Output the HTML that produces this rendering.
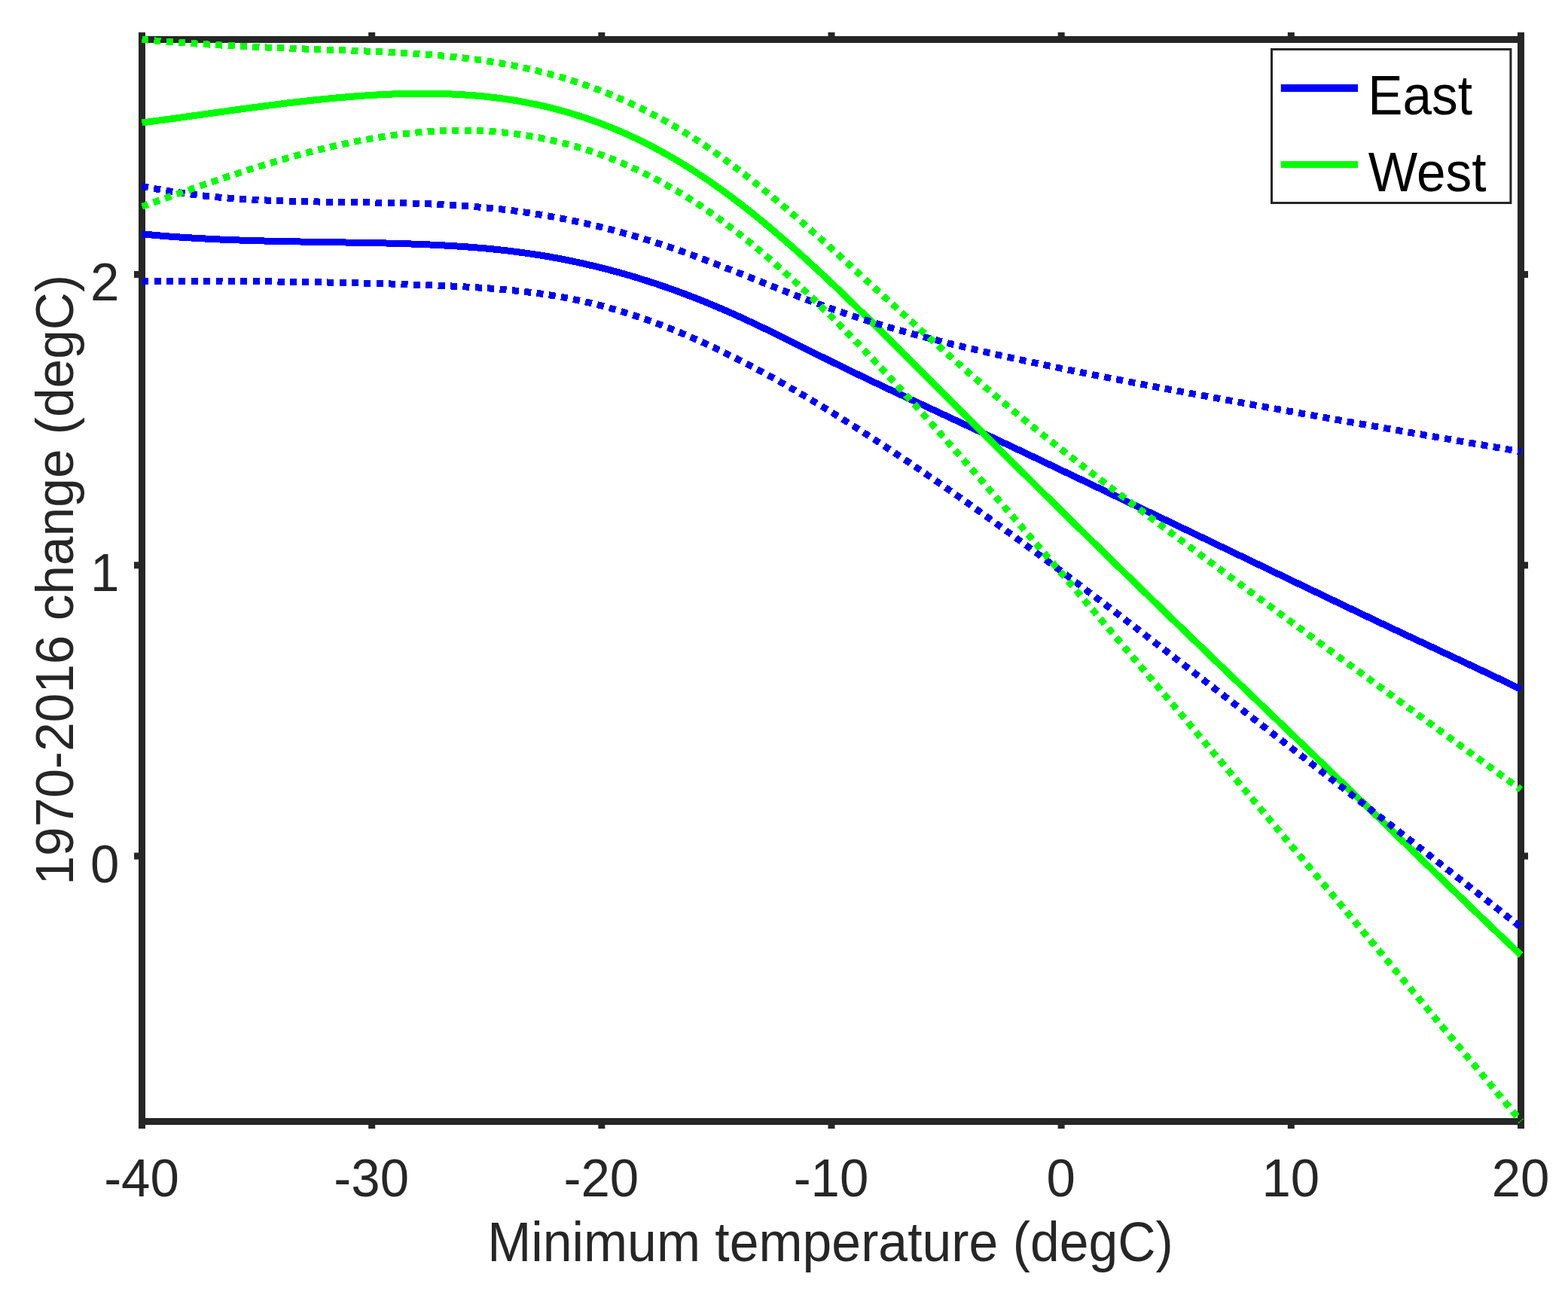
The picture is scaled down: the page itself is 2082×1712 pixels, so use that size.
<!DOCTYPE html>
<html><head><meta charset="utf-8"><title>Plot</title>
<style>html,body{margin:0;padding:0;background:#fff;overflow:hidden;}svg{display:block;}</style>
</head><body>
<svg width="2082" height="1712" viewBox="0 0 2082 1712">
<rect width="2082" height="1712" fill="#ffffff"/>
<g stroke="#262626" stroke-width="9" fill="none" stroke-linecap="butt">
<path d="M188.5 48.0 L188.5 1499.0"/>
<path d="M2019.5 43.0 L2019.5 1499.0"/>
<path d="M184.0 52.5 L2024.0 52.5"/>
<path d="M184.0 1489.5 L2024.0 1489.5"/>
<path d="M493.67 52.5 L493.67 43.0"/>
<path d="M493.67 1489.5 L493.67 1499.0"/>
<path d="M798.83 52.5 L798.83 43.0"/>
<path d="M798.83 1489.5 L798.83 1499.0"/>
<path d="M1104.00 52.5 L1104.00 43.0"/>
<path d="M1104.00 1489.5 L1104.00 1499.0"/>
<path d="M1409.17 52.5 L1409.17 43.0"/>
<path d="M1409.17 1489.5 L1409.17 1499.0"/>
<path d="M1714.33 52.5 L1714.33 43.0"/>
<path d="M1714.33 1489.5 L1714.33 1499.0"/>
<path d="M188.5 43.0 L188.5 52.5"/>
<path d="M188.5 1137.00 L178.0 1137.00"/>
<path d="M2019.5 1137.00 L2029.0 1137.00"/>
<path d="M188.5 750.75 L178.0 750.75"/>
<path d="M2019.5 750.75 L2029.0 750.75"/>
<path d="M188.5 364.50 L178.0 364.50"/>
<path d="M2019.5 364.50 L2029.0 364.50"/>
</g>
<text transform="translate(188.00 1589.00) scale(1 1.0320)" font-family="'Liberation Sans', Arial, Helvetica, sans-serif" font-size="69" fill="#262626" text-anchor="middle">-40</text>
<text transform="translate(493.17 1589.00) scale(1 1.0320)" font-family="'Liberation Sans', Arial, Helvetica, sans-serif" font-size="69" fill="#262626" text-anchor="middle">-30</text>
<text transform="translate(798.33 1589.00) scale(1 1.0320)" font-family="'Liberation Sans', Arial, Helvetica, sans-serif" font-size="69" fill="#262626" text-anchor="middle">-20</text>
<text transform="translate(1103.50 1589.00) scale(1 1.0320)" font-family="'Liberation Sans', Arial, Helvetica, sans-serif" font-size="69" fill="#262626" text-anchor="middle">-10</text>
<text transform="translate(1408.67 1589.00) scale(1 1.0320)" font-family="'Liberation Sans', Arial, Helvetica, sans-serif" font-size="69" fill="#262626" text-anchor="middle">0</text>
<text transform="translate(1713.83 1589.00) scale(1 1.0320)" font-family="'Liberation Sans', Arial, Helvetica, sans-serif" font-size="69" fill="#262626" text-anchor="middle">10</text>
<text transform="translate(2019.00 1589.00) scale(1 1.0320)" font-family="'Liberation Sans', Arial, Helvetica, sans-serif" font-size="69" fill="#262626" text-anchor="middle">20</text>
<text transform="translate(158.50 1171.50) scale(1 1.0320)" font-family="'Liberation Sans', Arial, Helvetica, sans-serif" font-size="69" fill="#262626" text-anchor="end">0</text>
<text transform="translate(158.50 785.25) scale(1 1.0320)" font-family="'Liberation Sans', Arial, Helvetica, sans-serif" font-size="69" fill="#262626" text-anchor="end">1</text>
<text transform="translate(158.50 399.00) scale(1 1.0320)" font-family="'Liberation Sans', Arial, Helvetica, sans-serif" font-size="69" fill="#262626" text-anchor="end">2</text>
<text transform="translate(647.20 1674.80) scale(1 1.0590)" font-family="'Liberation Sans', Arial, Helvetica, sans-serif" font-size="69.74" fill="#262626">Minimum temperature (degC)</text>
<text transform="translate(97.00 1175.60) rotate(-90) scale(1 1.0255)" font-family="'Liberation Sans', Arial, Helvetica, sans-serif" font-size="69.45" fill="#262626">1970-2016 change (degC)</text>
<path d="M188.5 310.8 L191.5 311.1 L194.5 311.4 L197.5 311.6 L200.5 311.9 L203.5 312.2 L206.5 312.5 L209.5 312.7 L212.5 313.0 L215.5 313.2 L218.5 313.5 L221.5 313.7 L224.5 314.0 L227.5 314.2 L230.5 314.4 L233.5 314.6 L236.5 314.8 L239.5 315.1 L242.5 315.3 L245.5 315.5 L248.5 315.7 L251.5 315.8 L254.5 316.0 L257.5 316.2 L260.5 316.4 L263.5 316.6 L266.5 316.7 L269.5 316.9 L272.5 317.0 L275.5 317.2 L278.5 317.4 L281.5 317.5 L284.5 317.6 L287.5 317.8 L290.5 317.9 L293.5 318.1 L296.5 318.2 L299.5 318.3 L302.5 318.4 L305.5 318.5 L308.5 318.7 L311.5 318.8 L314.5 318.9 L317.5 319.0 L320.5 319.1 L323.5 319.2 L326.5 319.3 L329.5 319.4 L332.5 319.5 L335.5 319.6 L338.5 319.7 L341.5 319.7 L344.5 319.8 L347.5 319.9 L350.5 320.0 L353.5 320.1 L356.5 320.1 L359.5 320.2 L362.5 320.3 L365.5 320.3 L368.5 320.4 L371.5 320.5 L374.5 320.5 L377.5 320.6 L380.5 320.7 L383.5 320.7 L386.5 320.8 L389.5 320.8 L392.5 320.9 L395.5 320.9 L398.5 321.0 L401.5 321.0 L404.5 321.1 L407.5 321.1 L410.5 321.2 L413.5 321.2 L416.5 321.3 L419.5 321.3 L422.5 321.4 L425.5 321.4 L428.5 321.5 L431.5 321.5 L434.5 321.6 L437.5 321.6 L440.5 321.7 L443.5 321.7 L446.5 321.8 L449.5 321.8 L452.5 321.9 L455.5 321.9 L458.5 322.0 L461.5 322.0 L464.5 322.1 L467.5 322.1 L470.5 322.2 L473.5 322.2 L476.5 322.3 L479.5 322.3 L482.5 322.4 L485.5 322.4 L488.5 322.5 L491.5 322.6 L494.5 322.6 L497.5 322.7 L500.5 322.7 L503.5 322.8 L506.5 322.9 L509.5 322.9 L512.5 323.0 L515.5 323.1 L518.5 323.2 L521.5 323.2 L524.5 323.3 L527.5 323.4 L530.5 323.5 L533.5 323.6 L536.5 323.7 L539.5 323.8 L542.5 323.9 L545.5 324.0 L548.5 324.1 L551.5 324.2 L554.5 324.3 L557.5 324.4 L560.5 324.5 L563.5 324.7 L566.5 324.8 L569.5 324.9 L572.5 325.1 L575.5 325.2 L578.5 325.3 L581.5 325.5 L584.5 325.7 L587.5 325.8 L590.5 326.0 L593.5 326.2 L596.5 326.3 L599.5 326.5 L602.5 326.7 L605.5 326.9 L608.5 327.1 L611.5 327.3 L614.5 327.5 L617.5 327.7 L620.5 327.9 L623.5 328.2 L626.5 328.4 L629.5 328.6 L632.5 328.9 L635.5 329.1 L638.5 329.4 L641.5 329.7 L644.5 329.9 L647.5 330.2 L650.5 330.5 L653.5 330.8 L656.5 331.1 L659.5 331.4 L662.5 331.7 L665.5 332.1 L668.5 332.4 L671.5 332.7 L674.5 333.1 L677.5 333.5 L680.5 333.8 L683.5 334.2 L686.5 334.6 L689.5 335.0 L692.5 335.4 L695.5 335.8 L698.5 336.2 L701.5 336.6 L704.5 337.1 L707.5 337.5 L710.5 338.0 L713.5 338.4 L716.5 338.9 L719.5 339.4 L722.5 339.9 L725.5 340.4 L728.5 340.9 L731.5 341.4 L734.5 342.0 L737.5 342.5 L740.5 343.1 L743.5 343.6 L746.5 344.2 L749.5 344.8 L752.5 345.4 L755.5 346.0 L758.5 346.6 L761.5 347.2 L764.5 347.9 L767.5 348.5 L770.5 349.2 L773.5 349.8 L776.5 350.5 L779.5 351.2 L782.5 351.9 L785.5 352.6 L788.5 353.3 L791.5 354.0 L794.5 354.8 L797.5 355.5 L800.5 356.3 L803.5 357.0 L806.5 357.8 L809.5 358.6 L812.5 359.4 L815.5 360.2 L818.5 361.0 L821.5 361.8 L824.5 362.7 L827.5 363.5 L830.5 364.4 L833.5 365.3 L836.5 366.1 L839.5 367.0 L842.5 367.9 L845.5 368.8 L848.5 369.7 L851.5 370.7 L854.5 371.6 L857.5 372.6 L860.5 373.5 L863.5 374.5 L866.5 375.5 L869.5 376.4 L872.5 377.4 L875.5 378.5 L878.5 379.5 L881.5 380.5 L884.5 381.5 L887.5 382.6 L890.5 383.6 L893.5 384.7 L896.5 385.8 L899.5 386.9 L902.5 388.0 L905.5 389.1 L908.5 390.2 L911.5 391.3 L914.5 392.5 L917.5 393.6 L920.5 394.8 L923.5 395.9 L926.5 397.1 L929.5 398.3 L932.5 399.5 L935.5 400.7 L938.5 401.9 L941.5 403.2 L944.5 404.4 L947.5 405.7 L950.5 406.9 L953.5 408.2 L956.5 409.5 L959.5 410.8 L962.5 412.1 L965.5 413.4 L968.5 414.7 L971.5 416.0 L974.5 417.4 L977.5 418.7 L980.5 420.1 L983.5 421.4 L986.5 422.8 L989.5 424.2 L992.5 425.6 L995.5 427.0 L998.5 428.4 L1001.5 429.8 L1004.5 431.2 L1007.5 432.6 L1010.5 434.1 L1013.5 435.5 L1016.5 437.0 L1019.5 438.4 L1022.5 439.9 L1025.5 441.3 L1028.5 442.8 L1031.5 444.3 L1034.5 445.7 L1037.5 447.2 L1040.5 448.7 L1043.5 450.2 L1046.5 451.6 L1049.5 453.1 L1052.5 454.6 L1055.5 456.1 L1058.5 457.6 L1061.5 459.1 L1064.5 460.6 L1067.5 462.1 L1070.5 463.6 L1073.5 465.1 L1076.5 466.6 L1079.5 468.1 L1082.5 469.6 L1085.5 471.1 L1088.5 472.6 L1091.5 474.0 L1094.5 475.5 L1097.5 477.0 L1100.5 478.5 L1103.5 480.0 L1106.5 481.5 L1109.5 483.0 L1112.5 484.4 L1115.5 485.9 L1118.5 487.4 L1121.5 488.8 L1124.5 490.3 L1127.5 491.8 L1130.5 493.2 L1133.5 494.7 L1136.5 496.1 L1139.5 497.5 L1142.5 499.0 L1145.5 500.4 L1148.5 501.9 L1151.5 503.3 L1154.5 504.7 L1157.5 506.1 L1160.5 507.6 L1163.5 509.0 L1166.5 510.4 L1169.5 511.8 L1172.5 513.2 L1175.5 514.6 L1178.5 516.1 L1181.5 517.5 L1184.5 518.9 L1187.5 520.3 L1190.5 521.7 L1193.5 523.1 L1196.5 524.5 L1199.5 525.9 L1202.5 527.3 L1205.5 528.7 L1208.5 530.1 L1211.5 531.5 L1214.5 532.9 L1217.5 534.3 L1220.5 535.7 L1223.5 537.0 L1226.5 538.4 L1229.5 539.8 L1232.5 541.2 L1235.5 542.6 L1238.5 544.0 L1241.5 545.4 L1244.5 546.8 L1247.5 548.2 L1250.5 549.6 L1253.5 551.0 L1256.5 552.4 L1259.5 553.8 L1262.5 555.2 L1265.5 556.6 L1268.5 558.0 L1271.5 559.4 L1274.5 560.8 L1277.5 562.2 L1280.5 563.6 L1283.5 565.0 L1286.5 566.4 L1289.5 567.8 L1292.5 569.2 L1295.5 570.6 L1298.5 572.0 L1301.5 573.4 L1304.5 574.8 L1307.5 576.2 L1310.5 577.7 L1313.5 579.1 L1316.5 580.5 L1319.5 581.9 L1322.5 583.3 L1325.5 584.7 L1328.5 586.1 L1331.5 587.6 L1334.5 589.0 L1337.5 590.4 L1340.5 591.8 L1343.5 593.2 L1346.5 594.7 L1349.5 596.1 L1352.5 597.5 L1355.5 598.9 L1358.5 600.3 L1361.5 601.8 L1364.5 603.2 L1367.5 604.6 L1370.5 606.0 L1373.5 607.5 L1376.5 608.9 L1379.5 610.3 L1382.5 611.7 L1385.5 613.2 L1388.5 614.6 L1391.5 616.0 L1394.5 617.5 L1397.5 618.9 L1400.5 620.3 L1403.5 621.7 L1406.5 623.2 L1409.5 624.6 L1412.5 626.0 L1415.5 627.5 L1418.5 628.9 L1421.5 630.3 L1424.5 631.8 L1427.5 633.2 L1430.5 634.6 L1433.5 636.0 L1436.5 637.5 L1439.5 638.9 L1442.5 640.3 L1445.5 641.8 L1448.5 643.2 L1451.5 644.6 L1454.5 646.1 L1457.5 647.5 L1460.5 648.9 L1463.5 650.4 L1466.5 651.8 L1469.5 653.2 L1472.5 654.7 L1475.5 656.1 L1478.5 657.5 L1481.5 659.0 L1484.5 660.4 L1487.5 661.8 L1490.5 663.3 L1493.5 664.7 L1496.5 666.1 L1499.5 667.6 L1502.5 669.0 L1505.5 670.5 L1508.5 671.9 L1511.5 673.3 L1514.5 674.8 L1517.5 676.2 L1520.5 677.6 L1523.5 679.1 L1526.5 680.5 L1529.5 681.9 L1532.5 683.4 L1535.5 684.8 L1538.5 686.2 L1541.5 687.7 L1544.5 689.1 L1547.5 690.5 L1550.5 692.0 L1553.5 693.4 L1556.5 694.9 L1559.5 696.3 L1562.5 697.7 L1565.5 699.2 L1568.5 700.6 L1571.5 702.0 L1574.5 703.5 L1577.5 704.9 L1580.5 706.4 L1583.5 707.8 L1586.5 709.2 L1589.5 710.7 L1592.5 712.1 L1595.5 713.5 L1598.5 715.0 L1601.5 716.4 L1604.5 717.9 L1607.5 719.3 L1610.5 720.7 L1613.5 722.2 L1616.5 723.6 L1619.5 725.1 L1622.5 726.5 L1625.5 727.9 L1628.5 729.4 L1631.5 730.8 L1634.5 732.3 L1637.5 733.7 L1640.5 735.1 L1643.5 736.6 L1646.5 738.0 L1649.5 739.4 L1652.5 740.9 L1655.5 742.3 L1658.5 743.8 L1661.5 745.2 L1664.5 746.7 L1667.5 748.1 L1670.5 749.5 L1673.5 751.0 L1676.5 752.4 L1679.5 753.9 L1682.5 755.3 L1685.5 756.7 L1688.5 758.2 L1691.5 759.6 L1694.5 761.1 L1697.5 762.5 L1700.5 763.9 L1703.5 765.4 L1706.5 766.8 L1709.5 768.3 L1712.5 769.7 L1715.5 771.1 L1718.5 772.6 L1721.5 774.0 L1724.5 775.5 L1727.5 776.9 L1730.5 778.4 L1733.5 779.8 L1736.5 781.2 L1739.5 782.7 L1742.5 784.1 L1745.5 785.5 L1748.5 787.0 L1751.5 788.4 L1754.5 789.9 L1757.5 791.3 L1760.5 792.7 L1763.5 794.2 L1766.5 795.6 L1769.5 797.0 L1772.5 798.5 L1775.5 799.9 L1778.5 801.4 L1781.5 802.8 L1784.5 804.2 L1787.5 805.7 L1790.5 807.1 L1793.5 808.5 L1796.5 810.0 L1799.5 811.4 L1802.5 812.8 L1805.5 814.2 L1808.5 815.7 L1811.5 817.1 L1814.5 818.5 L1817.5 820.0 L1820.5 821.4 L1823.5 822.8 L1826.5 824.2 L1829.5 825.6 L1832.5 827.1 L1835.5 828.5 L1838.5 829.9 L1841.5 831.3 L1844.5 832.8 L1847.5 834.2 L1850.5 835.6 L1853.5 837.0 L1856.5 838.4 L1859.5 839.8 L1862.5 841.2 L1865.5 842.7 L1868.5 844.1 L1871.5 845.5 L1874.5 846.9 L1877.5 848.3 L1880.5 849.7 L1883.5 851.1 L1886.5 852.5 L1889.5 853.9 L1892.5 855.3 L1895.5 856.7 L1898.5 858.1 L1901.5 859.5 L1904.5 860.9 L1907.5 862.3 L1910.5 863.7 L1913.5 865.2 L1916.5 866.6 L1919.5 868.0 L1922.5 869.4 L1925.5 870.8 L1928.5 872.2 L1931.5 873.6 L1934.5 875.0 L1937.5 876.4 L1940.5 877.8 L1943.5 879.2 L1946.5 880.6 L1949.5 882.0 L1952.5 883.5 L1955.5 884.9 L1958.5 886.3 L1961.5 887.7 L1964.5 889.1 L1967.5 890.5 L1970.5 892.0 L1973.5 893.4 L1976.5 894.8 L1979.5 896.2 L1982.5 897.7 L1985.5 899.1 L1988.5 900.5 L1991.5 902.0 L1994.5 903.4 L1997.5 904.9 L2000.5 906.3 L2003.5 907.7 L2006.5 909.2 L2009.5 910.6 L2012.5 912.1 L2015.5 913.6 L2018.5 915.0 L2019.5 915.5" fill="none" stroke="#0000ff" stroke-width="9" stroke-linejoin="round" stroke-linecap="butt" shape-rendering="crispEdges"/>
<path d="M188.5 163.0 L191.5 162.6 L194.5 162.2 L197.5 161.8 L200.5 161.4 L203.5 161.0 L206.5 160.6 L209.5 160.2 L212.5 159.8 L215.5 159.4 L218.5 159.0 L221.5 158.6 L224.5 158.2 L227.5 157.8 L230.5 157.4 L233.5 157.0 L236.5 156.5 L239.5 156.1 L242.5 155.7 L245.5 155.3 L248.5 154.9 L251.5 154.5 L254.5 154.0 L257.5 153.6 L260.5 153.2 L263.5 152.8 L266.5 152.4 L269.5 152.0 L272.5 151.5 L275.5 151.1 L278.5 150.7 L281.5 150.3 L284.5 149.9 L287.5 149.4 L290.5 149.0 L293.5 148.6 L296.5 148.2 L299.5 147.8 L302.5 147.4 L305.5 146.9 L308.5 146.5 L311.5 146.1 L314.5 145.7 L317.5 145.3 L320.5 144.9 L323.5 144.5 L326.5 144.1 L329.5 143.7 L332.5 143.3 L335.5 142.9 L338.5 142.5 L341.5 142.1 L344.5 141.7 L347.5 141.3 L350.5 140.9 L353.5 140.5 L356.5 140.1 L359.5 139.7 L362.5 139.3 L365.5 139.0 L368.5 138.6 L371.5 138.2 L374.5 137.8 L377.5 137.5 L380.5 137.1 L383.5 136.7 L386.5 136.4 L389.5 136.0 L392.5 135.7 L395.5 135.3 L398.5 135.0 L401.5 134.6 L404.5 134.3 L407.5 134.0 L410.5 133.6 L413.5 133.3 L416.5 133.0 L419.5 132.7 L422.5 132.4 L425.5 132.1 L428.5 131.8 L431.5 131.5 L434.5 131.2 L437.5 130.9 L440.5 130.6 L443.5 130.3 L446.5 130.0 L449.5 129.8 L452.5 129.5 L455.5 129.2 L458.5 129.0 L461.5 128.7 L464.5 128.5 L467.5 128.2 L470.5 128.0 L473.5 127.8 L476.5 127.6 L479.5 127.4 L482.5 127.1 L485.5 126.9 L488.5 126.7 L491.5 126.6 L494.5 126.4 L497.5 126.2 L500.5 126.0 L503.5 125.9 L506.5 125.7 L509.5 125.5 L512.5 125.4 L515.5 125.3 L518.5 125.1 L521.5 125.0 L524.5 124.9 L527.5 124.8 L530.5 124.7 L533.5 124.6 L536.5 124.5 L539.5 124.5 L542.5 124.4 L545.5 124.3 L548.5 124.3 L551.5 124.3 L554.5 124.2 L557.5 124.2 L560.5 124.2 L563.5 124.2 L566.5 124.2 L569.5 124.2 L572.5 124.3 L575.5 124.3 L578.5 124.3 L581.5 124.4 L584.5 124.5 L587.5 124.5 L590.5 124.6 L593.5 124.7 L596.5 124.9 L599.5 125.0 L602.5 125.1 L605.5 125.3 L608.5 125.4 L611.5 125.6 L614.5 125.8 L617.5 126.0 L620.5 126.2 L623.5 126.4 L626.5 126.6 L629.5 126.8 L632.5 127.1 L635.5 127.4 L638.5 127.6 L641.5 127.9 L644.5 128.2 L647.5 128.6 L650.5 128.9 L653.5 129.2 L656.5 129.6 L659.5 130.0 L662.5 130.3 L665.5 130.7 L668.5 131.2 L671.5 131.6 L674.5 132.0 L677.5 132.5 L680.5 132.9 L683.5 133.4 L686.5 133.9 L689.5 134.4 L692.5 135.0 L695.5 135.5 L698.5 136.1 L701.5 136.7 L704.5 137.3 L707.5 137.9 L710.5 138.5 L713.5 139.1 L716.5 139.8 L719.5 140.5 L722.5 141.1 L725.5 141.8 L728.5 142.6 L731.5 143.3 L734.5 144.1 L737.5 144.8 L740.5 145.6 L743.5 146.4 L746.5 147.3 L749.5 148.1 L752.5 148.9 L755.5 149.8 L758.5 150.7 L761.5 151.6 L764.5 152.6 L767.5 153.5 L770.5 154.5 L773.5 155.4 L776.5 156.4 L779.5 157.5 L782.5 158.5 L785.5 159.5 L788.5 160.6 L791.5 161.7 L794.5 162.8 L797.5 163.9 L800.5 165.1 L803.5 166.2 L806.5 167.4 L809.5 168.6 L812.5 169.8 L815.5 171.1 L818.5 172.3 L821.5 173.6 L824.5 174.9 L827.5 176.2 L830.5 177.5 L833.5 178.9 L836.5 180.2 L839.5 181.6 L842.5 183.0 L845.5 184.4 L848.5 185.9 L851.5 187.3 L854.5 188.8 L857.5 190.3 L860.5 191.8 L863.5 193.4 L866.5 194.9 L869.5 196.5 L872.5 198.1 L875.5 199.7 L878.5 201.4 L881.5 203.0 L884.5 204.7 L887.5 206.4 L890.5 208.1 L893.5 209.9 L896.5 211.6 L899.5 213.4 L902.5 215.2 L905.5 217.0 L908.5 218.9 L911.5 220.7 L914.5 222.6 L917.5 224.5 L920.5 226.4 L923.5 228.4 L926.5 230.3 L929.5 232.3 L932.5 234.3 L935.5 236.3 L938.5 238.3 L941.5 240.4 L944.5 242.5 L947.5 244.5 L950.5 246.7 L953.5 248.8 L956.5 250.9 L959.5 253.1 L962.5 255.3 L965.5 257.5 L968.5 259.7 L971.5 261.9 L974.5 264.2 L977.5 266.5 L980.5 268.7 L983.5 271.1 L986.5 273.4 L989.5 275.7 L992.5 278.1 L995.5 280.4 L998.5 282.8 L1001.5 285.2 L1004.5 287.7 L1007.5 290.1 L1010.5 292.6 L1013.5 295.0 L1016.5 297.5 L1019.5 300.0 L1022.5 302.5 L1025.5 305.1 L1028.5 307.6 L1031.5 310.2 L1034.5 312.7 L1037.5 315.3 L1040.5 317.9 L1043.5 320.5 L1046.5 323.2 L1049.5 325.8 L1052.5 328.4 L1055.5 331.1 L1058.5 333.8 L1061.5 336.5 L1064.5 339.2 L1067.5 341.9 L1070.5 344.6 L1073.5 347.4 L1076.5 350.1 L1079.5 352.9 L1082.5 355.6 L1085.5 358.4 L1088.5 361.2 L1091.5 364.0 L1094.5 366.8 L1097.5 369.6 L1100.5 372.5 L1103.5 375.3 L1106.5 378.1 L1109.5 381.0 L1112.5 383.8 L1115.5 386.7 L1118.5 389.6 L1121.5 392.5 L1124.5 395.4 L1127.5 398.3 L1130.5 401.2 L1133.5 404.1 L1136.5 407.0 L1139.5 409.9 L1142.5 412.9 L1145.5 415.8 L1148.5 418.7 L1151.5 421.7 L1154.5 424.6 L1157.5 427.6 L1160.5 430.5 L1163.5 433.5 L1166.5 436.5 L1169.5 439.4 L1172.5 442.4 L1175.5 445.4 L1178.5 448.4 L1181.5 451.3 L1184.5 454.3 L1187.5 457.3 L1190.5 460.3 L1193.5 463.3 L1196.5 466.3 L1199.5 469.3 L1202.5 472.3 L1205.5 475.3 L1208.5 478.3 L1211.5 481.3 L1214.5 484.3 L1217.5 487.3 L1220.5 490.3 L1223.5 493.4 L1226.5 496.4 L1229.5 499.4 L1232.5 502.4 L1235.5 505.4 L1238.5 508.4 L1241.5 511.4 L1244.5 514.4 L1247.5 517.4 L1250.5 520.5 L1253.5 523.5 L1256.5 526.5 L1259.5 529.5 L1262.5 532.5 L1265.5 535.5 L1268.5 538.5 L1271.5 541.5 L1274.5 544.5 L1277.5 547.5 L1280.5 550.5 L1283.5 553.5 L1286.5 556.5 L1289.5 559.5 L1292.5 562.5 L1295.5 565.5 L1298.5 568.5 L1301.5 571.5 L1304.5 574.5 L1307.5 577.5 L1310.5 580.5 L1313.5 583.4 L1316.5 586.4 L1319.5 589.4 L1322.5 592.4 L1325.5 595.4 L1328.5 598.4 L1331.5 601.4 L1334.5 604.3 L1337.5 607.3 L1340.5 610.3 L1343.5 613.3 L1346.5 616.3 L1349.5 619.2 L1352.5 622.2 L1355.5 625.2 L1358.5 628.2 L1361.5 631.1 L1364.5 634.1 L1367.5 637.1 L1370.5 640.0 L1373.5 643.0 L1376.5 646.0 L1379.5 649.0 L1382.5 651.9 L1385.5 654.9 L1388.5 657.9 L1391.5 660.8 L1394.5 663.8 L1397.5 666.7 L1400.5 669.7 L1403.5 672.7 L1406.5 675.6 L1409.5 678.6 L1412.5 681.5 L1415.5 684.5 L1418.5 687.4 L1421.5 690.4 L1424.5 693.3 L1427.5 696.3 L1430.5 699.2 L1433.5 702.2 L1436.5 705.1 L1439.5 708.1 L1442.5 711.0 L1445.5 714.0 L1448.5 716.9 L1451.5 719.9 L1454.5 722.8 L1457.5 725.7 L1460.5 728.7 L1463.5 731.6 L1466.5 734.6 L1469.5 737.5 L1472.5 740.4 L1475.5 743.4 L1478.5 746.3 L1481.5 749.2 L1484.5 752.2 L1487.5 755.1 L1490.5 758.0 L1493.5 760.9 L1496.5 763.9 L1499.5 766.8 L1502.5 769.7 L1505.5 772.6 L1508.5 775.6 L1511.5 778.5 L1514.5 781.4 L1517.5 784.3 L1520.5 787.2 L1523.5 790.1 L1526.5 793.1 L1529.5 796.0 L1532.5 798.9 L1535.5 801.8 L1538.5 804.7 L1541.5 807.6 L1544.5 810.5 L1547.5 813.4 L1550.5 816.3 L1553.5 819.3 L1556.5 822.2 L1559.5 825.1 L1562.5 828.0 L1565.5 830.9 L1568.5 833.8 L1571.5 836.7 L1574.5 839.6 L1577.5 842.5 L1580.5 845.4 L1583.5 848.3 L1586.5 851.1 L1589.5 854.0 L1592.5 856.9 L1595.5 859.8 L1598.5 862.7 L1601.5 865.6 L1604.5 868.5 L1607.5 871.4 L1610.5 874.3 L1613.5 877.2 L1616.5 880.1 L1619.5 883.0 L1622.5 885.8 L1625.5 888.7 L1628.5 891.6 L1631.5 894.5 L1634.5 897.4 L1637.5 900.3 L1640.5 903.2 L1643.5 906.0 L1646.5 908.9 L1649.5 911.8 L1652.5 914.7 L1655.5 917.6 L1658.5 920.5 L1661.5 923.4 L1664.5 926.2 L1667.5 929.1 L1670.5 932.0 L1673.5 934.9 L1676.5 937.8 L1679.5 940.6 L1682.5 943.5 L1685.5 946.4 L1688.5 949.3 L1691.5 952.2 L1694.5 955.1 L1697.5 957.9 L1700.5 960.8 L1703.5 963.7 L1706.5 966.6 L1709.5 969.5 L1712.5 972.4 L1715.5 975.2 L1718.5 978.1 L1721.5 981.0 L1724.5 983.9 L1727.5 986.8 L1730.5 989.7 L1733.5 992.5 L1736.5 995.4 L1739.5 998.3 L1742.5 1001.2 L1745.5 1004.1 L1748.5 1007.0 L1751.5 1009.9 L1754.5 1012.7 L1757.5 1015.6 L1760.5 1018.5 L1763.5 1021.4 L1766.5 1024.3 L1769.5 1027.2 L1772.5 1030.1 L1775.5 1033.0 L1778.5 1035.9 L1781.5 1038.8 L1784.5 1041.7 L1787.5 1044.5 L1790.5 1047.4 L1793.5 1050.3 L1796.5 1053.2 L1799.5 1056.1 L1802.5 1059.0 L1805.5 1061.9 L1808.5 1064.8 L1811.5 1067.7 L1814.5 1070.6 L1817.5 1073.5 L1820.5 1076.4 L1823.5 1079.3 L1826.5 1082.2 L1829.5 1085.1 L1832.5 1088.1 L1835.5 1091.0 L1838.5 1093.9 L1841.5 1096.8 L1844.5 1099.7 L1847.5 1102.6 L1850.5 1105.5 L1853.5 1108.4 L1856.5 1111.3 L1859.5 1114.2 L1862.5 1117.2 L1865.5 1120.1 L1868.5 1123.0 L1871.5 1125.9 L1874.5 1128.8 L1877.5 1131.7 L1880.5 1134.6 L1883.5 1137.6 L1886.5 1140.5 L1889.5 1143.4 L1892.5 1146.3 L1895.5 1149.2 L1898.5 1152.1 L1901.5 1155.0 L1904.5 1158.0 L1907.5 1160.9 L1910.5 1163.8 L1913.5 1166.7 L1916.5 1169.6 L1919.5 1172.5 L1922.5 1175.4 L1925.5 1178.3 L1928.5 1181.2 L1931.5 1184.1 L1934.5 1187.0 L1937.5 1189.9 L1940.5 1192.8 L1943.5 1195.7 L1946.5 1198.6 L1949.5 1201.5 L1952.5 1204.4 L1955.5 1207.3 L1958.5 1210.2 L1961.5 1213.1 L1964.5 1216.0 L1967.5 1218.9 L1970.5 1221.7 L1973.5 1224.6 L1976.5 1227.5 L1979.5 1230.4 L1982.5 1233.3 L1985.5 1236.1 L1988.5 1239.0 L1991.5 1241.9 L1994.5 1244.7 L1997.5 1247.6 L2000.5 1250.5 L2003.5 1253.3 L2006.5 1256.2 L2009.5 1259.0 L2012.5 1261.9 L2015.5 1264.7 L2018.5 1267.6 L2019.5 1268.5" fill="none" stroke="#00ff00" stroke-width="9" stroke-linejoin="round" stroke-linecap="butt" shape-rendering="crispEdges"/>
<path d="M188.5 247.3 L191.5 248.0 L194.5 248.6 L197.5 249.2 L200.5 249.7 L203.5 250.3 L206.5 250.8 L209.5 251.4 L212.5 251.9 L215.5 252.4 L218.5 252.9 L221.5 253.4 L224.5 253.9 L227.5 254.4 L230.5 254.8 L233.5 255.3 L236.5 255.7 L239.5 256.2 L242.5 256.6 L245.5 257.0 L248.5 257.4 L251.5 257.8 L254.5 258.2 L257.5 258.5 L260.5 258.9 L263.5 259.2 L266.5 259.6 L269.5 259.9 L272.5 260.2 L275.5 260.5 L278.5 260.8 L281.5 261.1 L284.5 261.4 L287.5 261.7 L290.5 262.0 L293.5 262.2 L296.5 262.5 L299.5 262.7 L302.5 263.0 L305.5 263.2 L308.5 263.4 L311.5 263.7 L314.5 263.9 L317.5 264.1 L320.5 264.3 L323.5 264.5 L326.5 264.6 L329.5 264.8 L332.5 265.0 L335.5 265.2 L338.5 265.3 L341.5 265.5 L344.5 265.6 L347.5 265.8 L350.5 265.9 L353.5 266.0 L356.5 266.2 L359.5 266.3 L362.5 266.4 L365.5 266.5 L368.5 266.6 L371.5 266.7 L374.5 266.8 L377.5 266.9 L380.5 267.0 L383.5 267.1 L386.5 267.2 L389.5 267.3 L392.5 267.3 L395.5 267.4 L398.5 267.5 L401.5 267.6 L404.5 267.6 L407.5 267.7 L410.5 267.7 L413.5 267.8 L416.5 267.9 L419.5 267.9 L422.5 268.0 L425.5 268.0 L428.5 268.1 L431.5 268.1 L434.5 268.2 L437.5 268.2 L440.5 268.2 L443.5 268.3 L446.5 268.3 L449.5 268.4 L452.5 268.4 L455.5 268.5 L458.5 268.5 L461.5 268.5 L464.5 268.6 L467.5 268.6 L470.5 268.6 L473.5 268.7 L476.5 268.7 L479.5 268.8 L482.5 268.8 L485.5 268.9 L488.5 268.9 L491.5 268.9 L494.5 269.0 L497.5 269.0 L500.5 269.1 L503.5 269.1 L506.5 269.2 L509.5 269.2 L512.5 269.3 L515.5 269.3 L518.5 269.4 L521.5 269.5 L524.5 269.5 L527.5 269.6 L530.5 269.7 L533.5 269.7 L536.5 269.8 L539.5 269.9 L542.5 270.0 L545.5 270.1 L548.5 270.2 L551.5 270.3 L554.5 270.4 L557.5 270.5 L560.5 270.6 L563.5 270.7 L566.5 270.8 L569.5 270.9 L572.5 271.0 L575.5 271.2 L578.5 271.3 L581.5 271.4 L584.5 271.6 L587.5 271.7 L590.5 271.9 L593.5 272.1 L596.5 272.2 L599.5 272.4 L602.5 272.6 L605.5 272.8 L608.5 272.9 L611.5 273.1 L614.5 273.3 L617.5 273.6 L620.5 273.8 L623.5 274.0 L626.5 274.2 L629.5 274.5 L632.5 274.7 L635.5 275.0 L638.5 275.2 L641.5 275.5 L644.5 275.8 L647.5 276.1 L650.5 276.3 L653.5 276.6 L656.5 277.0 L659.5 277.3 L662.5 277.6 L665.5 277.9 L668.5 278.3 L671.5 278.6 L674.5 279.0 L677.5 279.4 L680.5 279.7 L683.5 280.1 L686.5 280.5 L689.5 280.9 L692.5 281.3 L695.5 281.8 L698.5 282.2 L701.5 282.6 L704.5 283.1 L707.5 283.6 L710.5 284.0 L713.5 284.5 L716.5 285.0 L719.5 285.5 L722.5 286.0 L725.5 286.5 L728.5 287.0 L731.5 287.6 L734.5 288.1 L737.5 288.7 L740.5 289.2 L743.5 289.8 L746.5 290.4 L749.5 290.9 L752.5 291.5 L755.5 292.1 L758.5 292.8 L761.5 293.4 L764.5 294.0 L767.5 294.6 L770.5 295.3 L773.5 296.0 L776.5 296.6 L779.5 297.3 L782.5 298.0 L785.5 298.7 L788.5 299.4 L791.5 300.1 L794.5 300.8 L797.5 301.6 L800.5 302.3 L803.5 303.0 L806.5 303.8 L809.5 304.6 L812.5 305.3 L815.5 306.1 L818.5 306.9 L821.5 307.7 L824.5 308.5 L827.5 309.4 L830.5 310.2 L833.5 311.0 L836.5 311.9 L839.5 312.7 L842.5 313.6 L845.5 314.5 L848.5 315.4 L851.5 316.3 L854.5 317.2 L857.5 318.1 L860.5 319.0 L863.5 319.9 L866.5 320.9 L869.5 321.8 L872.5 322.8 L875.5 323.8 L878.5 324.7 L881.5 325.7 L884.5 326.7 L887.5 327.7 L890.5 328.7 L893.5 329.8 L896.5 330.8 L899.5 331.8 L902.5 332.9 L905.5 333.9 L908.5 335.0 L911.5 336.1 L914.5 337.2 L917.5 338.3 L920.5 339.4 L923.5 340.5 L926.5 341.6 L929.5 342.7 L932.5 343.8 L935.5 344.9 L938.5 346.1 L941.5 347.2 L944.5 348.3 L947.5 349.5 L950.5 350.6 L953.5 351.8 L956.5 353.0 L959.5 354.1 L962.5 355.3 L965.5 356.5 L968.5 357.6 L971.5 358.8 L974.5 360.0 L977.5 361.2 L980.5 362.4 L983.5 363.5 L986.5 364.7 L989.5 365.9 L992.5 367.1 L995.5 368.3 L998.5 369.5 L1001.5 370.7 L1004.5 371.9 L1007.5 373.1 L1010.5 374.3 L1013.5 375.5 L1016.5 376.7 L1019.5 377.9 L1022.5 379.0 L1025.5 380.2 L1028.5 381.4 L1031.5 382.6 L1034.5 383.8 L1037.5 385.0 L1040.5 386.1 L1043.5 387.3 L1046.5 388.5 L1049.5 389.7 L1052.5 390.8 L1055.5 392.0 L1058.5 393.1 L1061.5 394.3 L1064.5 395.4 L1067.5 396.6 L1070.5 397.7 L1073.5 398.9 L1076.5 400.0 L1079.5 401.1 L1082.5 402.2 L1085.5 403.3 L1088.5 404.4 L1091.5 405.5 L1094.5 406.6 L1097.5 407.7 L1100.5 408.8 L1103.5 409.8 L1106.5 410.9 L1109.5 411.9 L1112.5 413.0 L1115.5 414.0 L1118.5 415.0 L1121.5 416.1 L1124.5 417.1 L1127.5 418.1 L1130.5 419.1 L1133.5 420.1 L1136.5 421.0 L1139.5 422.0 L1142.5 423.0 L1145.5 423.9 L1148.5 424.9 L1151.5 425.8 L1154.5 426.8 L1157.5 427.7 L1160.5 428.6 L1163.5 429.6 L1166.5 430.5 L1169.5 431.4 L1172.5 432.3 L1175.5 433.2 L1178.5 434.1 L1181.5 434.9 L1184.5 435.8 L1187.5 436.7 L1190.5 437.5 L1193.5 438.4 L1196.5 439.2 L1199.5 440.1 L1202.5 440.9 L1205.5 441.8 L1208.5 442.6 L1211.5 443.4 L1214.5 444.2 L1217.5 445.0 L1220.5 445.8 L1223.5 446.7 L1226.5 447.4 L1229.5 448.2 L1232.5 449.0 L1235.5 449.8 L1238.5 450.6 L1241.5 451.4 L1244.5 452.1 L1247.5 452.9 L1250.5 453.6 L1253.5 454.4 L1256.5 455.1 L1259.5 455.9 L1262.5 456.6 L1265.5 457.4 L1268.5 458.1 L1271.5 458.8 L1274.5 459.6 L1277.5 460.3 L1280.5 461.0 L1283.5 461.7 L1286.5 462.4 L1289.5 463.1 L1292.5 463.8 L1295.5 464.5 L1298.5 465.2 L1301.5 465.9 L1304.5 466.6 L1307.5 467.3 L1310.5 468.0 L1313.5 468.7 L1316.5 469.4 L1319.5 470.0 L1322.5 470.7 L1325.5 471.4 L1328.5 472.0 L1331.5 472.7 L1334.5 473.4 L1337.5 474.0 L1340.5 474.7 L1343.5 475.4 L1346.5 476.0 L1349.5 476.7 L1352.5 477.3 L1355.5 478.0 L1358.5 478.6 L1361.5 479.3 L1364.5 479.9 L1367.5 480.5 L1370.5 481.2 L1373.5 481.8 L1376.5 482.4 L1379.5 483.1 L1382.5 483.7 L1385.5 484.3 L1388.5 485.0 L1391.5 485.6 L1394.5 486.2 L1397.5 486.8 L1400.5 487.5 L1403.5 488.1 L1406.5 488.7 L1409.5 489.3 L1412.5 489.9 L1415.5 490.5 L1418.5 491.2 L1421.5 491.8 L1424.5 492.4 L1427.5 493.0 L1430.5 493.6 L1433.5 494.2 L1436.5 494.8 L1439.5 495.4 L1442.5 496.0 L1445.5 496.6 L1448.5 497.2 L1451.5 497.8 L1454.5 498.4 L1457.5 499.0 L1460.5 499.6 L1463.5 500.1 L1466.5 500.7 L1469.5 501.3 L1472.5 501.9 L1475.5 502.5 L1478.5 503.1 L1481.5 503.7 L1484.5 504.2 L1487.5 504.8 L1490.5 505.4 L1493.5 506.0 L1496.5 506.5 L1499.5 507.1 L1502.5 507.7 L1505.5 508.3 L1508.5 508.8 L1511.5 509.4 L1514.5 510.0 L1517.5 510.6 L1520.5 511.1 L1523.5 511.7 L1526.5 512.3 L1529.5 512.8 L1532.5 513.4 L1535.5 514.0 L1538.5 514.5 L1541.5 515.1 L1544.5 515.7 L1547.5 516.2 L1550.5 516.8 L1553.5 517.3 L1556.5 517.9 L1559.5 518.5 L1562.5 519.0 L1565.5 519.6 L1568.5 520.1 L1571.5 520.7 L1574.5 521.2 L1577.5 521.8 L1580.5 522.4 L1583.5 522.9 L1586.5 523.5 L1589.5 524.0 L1592.5 524.6 L1595.5 525.1 L1598.5 525.7 L1601.5 526.2 L1604.5 526.8 L1607.5 527.3 L1610.5 527.9 L1613.5 528.4 L1616.5 529.0 L1619.5 529.5 L1622.5 530.1 L1625.5 530.6 L1628.5 531.2 L1631.5 531.7 L1634.5 532.3 L1637.5 532.8 L1640.5 533.4 L1643.5 533.9 L1646.5 534.5 L1649.5 535.0 L1652.5 535.5 L1655.5 536.1 L1658.5 536.6 L1661.5 537.2 L1664.5 537.7 L1667.5 538.3 L1670.5 538.8 L1673.5 539.3 L1676.5 539.9 L1679.5 540.4 L1682.5 541.0 L1685.5 541.5 L1688.5 542.0 L1691.5 542.6 L1694.5 543.1 L1697.5 543.7 L1700.5 544.2 L1703.5 544.7 L1706.5 545.3 L1709.5 545.8 L1712.5 546.3 L1715.5 546.9 L1718.5 547.4 L1721.5 547.9 L1724.5 548.5 L1727.5 549.0 L1730.5 549.6 L1733.5 550.1 L1736.5 550.6 L1739.5 551.2 L1742.5 551.7 L1745.5 552.2 L1748.5 552.7 L1751.5 553.3 L1754.5 553.8 L1757.5 554.3 L1760.5 554.9 L1763.5 555.4 L1766.5 555.9 L1769.5 556.5 L1772.5 557.0 L1775.5 557.5 L1778.5 558.0 L1781.5 558.6 L1784.5 559.1 L1787.5 559.6 L1790.5 560.2 L1793.5 560.7 L1796.5 561.2 L1799.5 561.7 L1802.5 562.3 L1805.5 562.8 L1808.5 563.3 L1811.5 563.8 L1814.5 564.4 L1817.5 564.9 L1820.5 565.4 L1823.5 565.9 L1826.5 566.5 L1829.5 567.0 L1832.5 567.5 L1835.5 568.0 L1838.5 568.6 L1841.5 569.1 L1844.5 569.6 L1847.5 570.1 L1850.5 570.7 L1853.5 571.2 L1856.5 571.7 L1859.5 572.2 L1862.5 572.7 L1865.5 573.3 L1868.5 573.8 L1871.5 574.3 L1874.5 574.8 L1877.5 575.4 L1880.5 575.9 L1883.5 576.4 L1886.5 576.9 L1889.5 577.4 L1892.5 578.0 L1895.5 578.5 L1898.5 579.0 L1901.5 579.5 L1904.5 580.0 L1907.5 580.6 L1910.5 581.1 L1913.5 581.6 L1916.5 582.1 L1919.5 582.6 L1922.5 583.1 L1925.5 583.7 L1928.5 584.2 L1931.5 584.7 L1934.5 585.2 L1937.5 585.7 L1940.5 586.3 L1943.5 586.8 L1946.5 587.3 L1949.5 587.8 L1952.5 588.3 L1955.5 588.8 L1958.5 589.4 L1961.5 589.9 L1964.5 590.4 L1967.5 590.9 L1970.5 591.4 L1973.5 591.9 L1976.5 592.5 L1979.5 593.0 L1982.5 593.5 L1985.5 594.0 L1988.5 594.5 L1991.5 595.0 L1994.5 595.6 L1997.5 596.1 L2000.5 596.6 L2003.5 597.1 L2006.5 597.6 L2009.5 598.1 L2012.5 598.7 L2015.5 599.2 L2018.5 599.7 L2019.5 599.9" fill="none" stroke="#0000ff" stroke-width="9" stroke-linejoin="round" stroke-linecap="butt" shape-rendering="crispEdges" stroke-dasharray="9 7.404" stroke-dashoffset="0.4"/>
<path d="M188.5 373.8 L191.5 373.8 L194.5 373.7 L197.5 373.7 L200.5 373.7 L203.5 373.7 L206.5 373.7 L209.5 373.7 L212.5 373.6 L215.5 373.6 L218.5 373.6 L221.5 373.6 L224.5 373.6 L227.5 373.6 L230.5 373.6 L233.5 373.6 L236.5 373.6 L239.5 373.5 L242.5 373.5 L245.5 373.5 L248.5 373.5 L251.5 373.5 L254.5 373.5 L257.5 373.5 L260.5 373.5 L263.5 373.5 L266.5 373.5 L269.5 373.5 L272.5 373.5 L275.5 373.5 L278.5 373.5 L281.5 373.5 L284.5 373.5 L287.5 373.5 L290.5 373.5 L293.5 373.5 L296.5 373.6 L299.5 373.6 L302.5 373.6 L305.5 373.6 L308.5 373.6 L311.5 373.6 L314.5 373.6 L317.5 373.6 L320.5 373.6 L323.5 373.7 L326.5 373.7 L329.5 373.7 L332.5 373.7 L335.5 373.7 L338.5 373.8 L341.5 373.8 L344.5 373.8 L347.5 373.8 L350.5 373.9 L353.5 373.9 L356.5 373.9 L359.5 373.9 L362.5 374.0 L365.5 374.0 L368.5 374.0 L371.5 374.1 L374.5 374.1 L377.5 374.1 L380.5 374.2 L383.5 374.2 L386.5 374.2 L389.5 374.3 L392.5 374.3 L395.5 374.3 L398.5 374.4 L401.5 374.4 L404.5 374.5 L407.5 374.5 L410.5 374.6 L413.5 374.6 L416.5 374.7 L419.5 374.7 L422.5 374.8 L425.5 374.8 L428.5 374.9 L431.5 374.9 L434.5 375.0 L437.5 375.0 L440.5 375.1 L443.5 375.1 L446.5 375.2 L449.5 375.3 L452.5 375.3 L455.5 375.4 L458.5 375.5 L461.5 375.5 L464.5 375.6 L467.5 375.7 L470.5 375.7 L473.5 375.8 L476.5 375.9 L479.5 375.9 L482.5 376.0 L485.5 376.1 L488.5 376.2 L491.5 376.2 L494.5 376.3 L497.5 376.4 L500.5 376.5 L503.5 376.6 L506.5 376.7 L509.5 376.7 L512.5 376.8 L515.5 376.9 L518.5 377.0 L521.5 377.1 L524.5 377.2 L527.5 377.3 L530.5 377.4 L533.5 377.5 L536.5 377.6 L539.5 377.7 L542.5 377.8 L545.5 377.9 L548.5 378.0 L551.5 378.1 L554.5 378.2 L557.5 378.3 L560.5 378.4 L563.5 378.5 L566.5 378.7 L569.5 378.8 L572.5 378.9 L575.5 379.0 L578.5 379.1 L581.5 379.2 L584.5 379.4 L587.5 379.5 L590.5 379.6 L593.5 379.7 L596.5 379.9 L599.5 380.0 L602.5 380.2 L605.5 380.3 L608.5 380.5 L611.5 380.6 L614.5 380.8 L617.5 380.9 L620.5 381.1 L623.5 381.3 L626.5 381.4 L629.5 381.6 L632.5 381.8 L635.5 382.0 L638.5 382.2 L641.5 382.4 L644.5 382.6 L647.5 382.8 L650.5 383.0 L653.5 383.3 L656.5 383.5 L659.5 383.7 L662.5 384.0 L665.5 384.2 L668.5 384.5 L671.5 384.8 L674.5 385.1 L677.5 385.4 L680.5 385.6 L683.5 386.0 L686.5 386.3 L689.5 386.6 L692.5 386.9 L695.5 387.3 L698.5 387.6 L701.5 388.0 L704.5 388.3 L707.5 388.7 L710.5 389.1 L713.5 389.5 L716.5 389.9 L719.5 390.4 L722.5 390.8 L725.5 391.2 L728.5 391.7 L731.5 392.2 L734.5 392.6 L737.5 393.1 L740.5 393.6 L743.5 394.2 L746.5 394.7 L749.5 395.2 L752.5 395.8 L755.5 396.4 L758.5 396.9 L761.5 397.5 L764.5 398.2 L767.5 398.8 L770.5 399.4 L773.5 400.1 L776.5 400.7 L779.5 401.4 L782.5 402.1 L785.5 402.8 L788.5 403.6 L791.5 404.3 L794.5 405.1 L797.5 405.8 L800.5 406.6 L803.5 407.4 L806.5 408.2 L809.5 409.1 L812.5 409.9 L815.5 410.8 L818.5 411.6 L821.5 412.5 L824.5 413.4 L827.5 414.3 L830.5 415.3 L833.5 416.2 L836.5 417.2 L839.5 418.1 L842.5 419.1 L845.5 420.1 L848.5 421.1 L851.5 422.2 L854.5 423.2 L857.5 424.2 L860.5 425.3 L863.5 426.4 L866.5 427.5 L869.5 428.6 L872.5 429.7 L875.5 430.8 L878.5 431.9 L881.5 433.1 L884.5 434.3 L887.5 435.4 L890.5 436.6 L893.5 437.8 L896.5 439.0 L899.5 440.3 L902.5 441.5 L905.5 442.8 L908.5 444.0 L911.5 445.3 L914.5 446.6 L917.5 447.9 L920.5 449.2 L923.5 450.5 L926.5 451.8 L929.5 453.2 L932.5 454.5 L935.5 455.9 L938.5 457.2 L941.5 458.6 L944.5 460.0 L947.5 461.4 L950.5 462.8 L953.5 464.3 L956.5 465.7 L959.5 467.1 L962.5 468.6 L965.5 470.1 L968.5 471.6 L971.5 473.0 L974.5 474.5 L977.5 476.0 L980.5 477.6 L983.5 479.1 L986.5 480.6 L989.5 482.2 L992.5 483.7 L995.5 485.3 L998.5 486.9 L1001.5 488.4 L1004.5 490.0 L1007.5 491.6 L1010.5 493.2 L1013.5 494.9 L1016.5 496.5 L1019.5 498.1 L1022.5 499.8 L1025.5 501.4 L1028.5 503.1 L1031.5 504.8 L1034.5 506.4 L1037.5 508.1 L1040.5 509.8 L1043.5 511.5 L1046.5 513.2 L1049.5 515.0 L1052.5 516.7 L1055.5 518.4 L1058.5 520.2 L1061.5 521.9 L1064.5 523.7 L1067.5 525.4 L1070.5 527.2 L1073.5 529.0 L1076.5 530.8 L1079.5 532.6 L1082.5 534.4 L1085.5 536.2 L1088.5 538.0 L1091.5 539.8 L1094.5 541.6 L1097.5 543.5 L1100.5 545.3 L1103.5 547.2 L1106.5 549.0 L1109.5 550.9 L1112.5 552.7 L1115.5 554.6 L1118.5 556.5 L1121.5 558.4 L1124.5 560.3 L1127.5 562.2 L1130.5 564.1 L1133.5 566.0 L1136.5 567.9 L1139.5 569.8 L1142.5 571.7 L1145.5 573.6 L1148.5 575.6 L1151.5 577.5 L1154.5 579.5 L1157.5 581.4 L1160.5 583.4 L1163.5 585.3 L1166.5 587.3 L1169.5 589.3 L1172.5 591.2 L1175.5 593.2 L1178.5 595.2 L1181.5 597.2 L1184.5 599.2 L1187.5 601.2 L1190.5 603.2 L1193.5 605.2 L1196.5 607.2 L1199.5 609.2 L1202.5 611.2 L1205.5 613.2 L1208.5 615.2 L1211.5 617.3 L1214.5 619.3 L1217.5 621.3 L1220.5 623.4 L1223.5 625.4 L1226.5 627.5 L1229.5 629.5 L1232.5 631.6 L1235.5 633.7 L1238.5 635.7 L1241.5 637.8 L1244.5 639.9 L1247.5 641.9 L1250.5 644.0 L1253.5 646.1 L1256.5 648.2 L1259.5 650.3 L1262.5 652.4 L1265.5 654.5 L1268.5 656.6 L1271.5 658.7 L1274.5 660.8 L1277.5 662.9 L1280.5 665.1 L1283.5 667.2 L1286.5 669.3 L1289.5 671.4 L1292.5 673.6 L1295.5 675.7 L1298.5 677.8 L1301.5 680.0 L1304.5 682.1 L1307.5 684.3 L1310.5 686.4 L1313.5 688.6 L1316.5 690.7 L1319.5 692.9 L1322.5 695.1 L1325.5 697.2 L1328.5 699.4 L1331.5 701.6 L1334.5 703.8 L1337.5 705.9 L1340.5 708.1 L1343.5 710.3 L1346.5 712.5 L1349.5 714.7 L1352.5 716.9 L1355.5 719.1 L1358.5 721.3 L1361.5 723.5 L1364.5 725.7 L1367.5 727.9 L1370.5 730.1 L1373.5 732.3 L1376.5 734.5 L1379.5 736.8 L1382.5 739.0 L1385.5 741.2 L1388.5 743.4 L1391.5 745.7 L1394.5 747.9 L1397.5 750.1 L1400.5 752.4 L1403.5 754.6 L1406.5 756.8 L1409.5 759.1 L1412.5 761.3 L1415.5 763.6 L1418.5 765.8 L1421.5 768.1 L1424.5 770.3 L1427.5 772.6 L1430.5 774.8 L1433.5 777.1 L1436.5 779.4 L1439.5 781.6 L1442.5 783.9 L1445.5 786.2 L1448.5 788.4 L1451.5 790.7 L1454.5 793.0 L1457.5 795.2 L1460.5 797.5 L1463.5 799.8 L1466.5 802.1 L1469.5 804.4 L1472.5 806.6 L1475.5 808.9 L1478.5 811.2 L1481.5 813.5 L1484.5 815.8 L1487.5 818.1 L1490.5 820.4 L1493.5 822.7 L1496.5 824.9 L1499.5 827.2 L1502.5 829.5 L1505.5 831.8 L1508.5 834.1 L1511.5 836.4 L1514.5 838.7 L1517.5 841.0 L1520.5 843.3 L1523.5 845.7 L1526.5 848.0 L1529.5 850.3 L1532.5 852.6 L1535.5 854.9 L1538.5 857.2 L1541.5 859.5 L1544.5 861.8 L1547.5 864.1 L1550.5 866.4 L1553.5 868.8 L1556.5 871.1 L1559.5 873.4 L1562.5 875.7 L1565.5 878.0 L1568.5 880.3 L1571.5 882.7 L1574.5 885.0 L1577.5 887.3 L1580.5 889.6 L1583.5 891.9 L1586.5 894.3 L1589.5 896.6 L1592.5 898.9 L1595.5 901.2 L1598.5 903.5 L1601.5 905.9 L1604.5 908.2 L1607.5 910.5 L1610.5 912.8 L1613.5 915.2 L1616.5 917.5 L1619.5 919.8 L1622.5 922.1 L1625.5 924.4 L1628.5 926.8 L1631.5 929.1 L1634.5 931.4 L1637.5 933.7 L1640.5 936.1 L1643.5 938.4 L1646.5 940.7 L1649.5 943.0 L1652.5 945.4 L1655.5 947.7 L1658.5 950.0 L1661.5 952.3 L1664.5 954.7 L1667.5 957.0 L1670.5 959.3 L1673.5 961.6 L1676.5 963.9 L1679.5 966.3 L1682.5 968.6 L1685.5 970.9 L1688.5 973.2 L1691.5 975.6 L1694.5 977.9 L1697.5 980.2 L1700.5 982.5 L1703.5 984.8 L1706.5 987.2 L1709.5 989.5 L1712.5 991.8 L1715.5 994.1 L1718.5 996.5 L1721.5 998.8 L1724.5 1001.1 L1727.5 1003.4 L1730.5 1005.8 L1733.5 1008.1 L1736.5 1010.4 L1739.5 1012.7 L1742.5 1015.1 L1745.5 1017.4 L1748.5 1019.7 L1751.5 1022.0 L1754.5 1024.4 L1757.5 1026.7 L1760.5 1029.0 L1763.5 1031.3 L1766.5 1033.7 L1769.5 1036.0 L1772.5 1038.3 L1775.5 1040.6 L1778.5 1043.0 L1781.5 1045.3 L1784.5 1047.6 L1787.5 1050.0 L1790.5 1052.3 L1793.5 1054.6 L1796.5 1056.9 L1799.5 1059.3 L1802.5 1061.6 L1805.5 1063.9 L1808.5 1066.3 L1811.5 1068.6 L1814.5 1070.9 L1817.5 1073.3 L1820.5 1075.6 L1823.5 1077.9 L1826.5 1080.3 L1829.5 1082.6 L1832.5 1084.9 L1835.5 1087.3 L1838.5 1089.6 L1841.5 1091.9 L1844.5 1094.3 L1847.5 1096.6 L1850.5 1098.9 L1853.5 1101.3 L1856.5 1103.6 L1859.5 1105.9 L1862.5 1108.3 L1865.5 1110.6 L1868.5 1113.0 L1871.5 1115.3 L1874.5 1117.6 L1877.5 1120.0 L1880.5 1122.3 L1883.5 1124.7 L1886.5 1127.0 L1889.5 1129.4 L1892.5 1131.7 L1895.5 1134.0 L1898.5 1136.4 L1901.5 1138.7 L1904.5 1141.1 L1907.5 1143.4 L1910.5 1145.8 L1913.5 1148.1 L1916.5 1150.5 L1919.5 1152.8 L1922.5 1155.2 L1925.5 1157.5 L1928.5 1159.9 L1931.5 1162.2 L1934.5 1164.6 L1937.5 1166.9 L1940.5 1169.3 L1943.5 1171.6 L1946.5 1174.0 L1949.5 1176.4 L1952.5 1178.7 L1955.5 1181.1 L1958.5 1183.4 L1961.5 1185.8 L1964.5 1188.2 L1967.5 1190.5 L1970.5 1192.9 L1973.5 1195.2 L1976.5 1197.6 L1979.5 1200.0 L1982.5 1202.3 L1985.5 1204.7 L1988.5 1207.1 L1991.5 1209.4 L1994.5 1211.8 L1997.5 1214.2 L2000.5 1216.6 L2003.5 1218.9 L2006.5 1221.3 L2009.5 1223.7 L2012.5 1226.1 L2015.5 1228.4 L2018.5 1230.8 L2019.5 1231.6" fill="none" stroke="#0000ff" stroke-width="9" stroke-linejoin="round" stroke-linecap="butt" shape-rendering="crispEdges" stroke-dasharray="9 7.404" stroke-dashoffset="0.4"/>
<path d="M188.5 52.4 L191.5 52.7 L194.5 52.9 L197.5 53.2 L200.5 53.5 L203.5 53.7 L206.5 54.0 L209.5 54.2 L212.5 54.5 L215.5 54.7 L218.5 55.0 L221.5 55.2 L224.5 55.4 L227.5 55.7 L230.5 55.9 L233.5 56.1 L236.5 56.3 L239.5 56.6 L242.5 56.8 L245.5 57.0 L248.5 57.2 L251.5 57.4 L254.5 57.6 L257.5 57.8 L260.5 58.0 L263.5 58.2 L266.5 58.4 L269.5 58.6 L272.5 58.8 L275.5 58.9 L278.5 59.1 L281.5 59.3 L284.5 59.5 L287.5 59.7 L290.5 59.8 L293.5 60.0 L296.5 60.2 L299.5 60.3 L302.5 60.5 L305.5 60.6 L308.5 60.8 L311.5 61.0 L314.5 61.1 L317.5 61.3 L320.5 61.4 L323.5 61.6 L326.5 61.7 L329.5 61.9 L332.5 62.0 L335.5 62.1 L338.5 62.3 L341.5 62.4 L344.5 62.6 L347.5 62.7 L350.5 62.8 L353.5 63.0 L356.5 63.1 L359.5 63.2 L362.5 63.4 L365.5 63.5 L368.5 63.6 L371.5 63.7 L374.5 63.9 L377.5 64.0 L380.5 64.1 L383.5 64.2 L386.5 64.3 L389.5 64.5 L392.5 64.6 L395.5 64.7 L398.5 64.8 L401.5 64.9 L404.5 65.0 L407.5 65.2 L410.5 65.3 L413.5 65.4 L416.5 65.5 L419.5 65.6 L422.5 65.7 L425.5 65.8 L428.5 65.9 L431.5 66.0 L434.5 66.1 L437.5 66.3 L440.5 66.4 L443.5 66.5 L446.5 66.6 L449.5 66.7 L452.5 66.8 L455.5 66.9 L458.5 67.0 L461.5 67.1 L464.5 67.2 L467.5 67.3 L470.5 67.5 L473.5 67.6 L476.5 67.7 L479.5 67.8 L482.5 67.9 L485.5 68.0 L488.5 68.1 L491.5 68.3 L494.5 68.4 L497.5 68.5 L500.5 68.6 L503.5 68.8 L506.5 68.9 L509.5 69.0 L512.5 69.2 L515.5 69.3 L518.5 69.5 L521.5 69.6 L524.5 69.8 L527.5 69.9 L530.5 70.1 L533.5 70.2 L536.5 70.4 L539.5 70.6 L542.5 70.8 L545.5 70.9 L548.5 71.1 L551.5 71.3 L554.5 71.5 L557.5 71.7 L560.5 71.9 L563.5 72.2 L566.5 72.4 L569.5 72.6 L572.5 72.8 L575.5 73.1 L578.5 73.3 L581.5 73.6 L584.5 73.8 L587.5 74.1 L590.5 74.4 L593.5 74.7 L596.5 75.0 L599.5 75.3 L602.5 75.6 L605.5 75.9 L608.5 76.2 L611.5 76.5 L614.5 76.9 L617.5 77.2 L620.5 77.6 L623.5 78.0 L626.5 78.3 L629.5 78.7 L632.5 79.1 L635.5 79.5 L638.5 80.0 L641.5 80.4 L644.5 80.8 L647.5 81.3 L650.5 81.7 L653.5 82.2 L656.5 82.7 L659.5 83.2 L662.5 83.7 L665.5 84.2 L668.5 84.7 L671.5 85.3 L674.5 85.8 L677.5 86.4 L680.5 86.9 L683.5 87.5 L686.5 88.1 L689.5 88.7 L692.5 89.4 L695.5 90.0 L698.5 90.7 L701.5 91.3 L704.5 92.0 L707.5 92.7 L710.5 93.4 L713.5 94.1 L716.5 94.9 L719.5 95.6 L722.5 96.4 L725.5 97.2 L728.5 97.9 L731.5 98.7 L734.5 99.6 L737.5 100.4 L740.5 101.3 L743.5 102.1 L746.5 103.0 L749.5 103.9 L752.5 104.8 L755.5 105.7 L758.5 106.7 L761.5 107.6 L764.5 108.6 L767.5 109.6 L770.5 110.6 L773.5 111.6 L776.5 112.7 L779.5 113.7 L782.5 114.8 L785.5 115.9 L788.5 117.0 L791.5 118.1 L794.5 119.2 L797.5 120.4 L800.5 121.5 L803.5 122.7 L806.5 123.9 L809.5 125.1 L812.5 126.4 L815.5 127.6 L818.5 128.9 L821.5 130.2 L824.5 131.5 L827.5 132.8 L830.5 134.1 L833.5 135.5 L836.5 136.9 L839.5 138.3 L842.5 139.7 L845.5 141.1 L848.5 142.5 L851.5 144.0 L854.5 145.5 L857.5 147.0 L860.5 148.5 L863.5 150.1 L866.5 151.6 L869.5 153.2 L872.5 154.8 L875.5 156.4 L878.5 158.1 L881.5 159.7 L884.5 161.4 L887.5 163.1 L890.5 164.8 L893.5 166.5 L896.5 168.3 L899.5 170.1 L902.5 171.8 L905.5 173.7 L908.5 175.5 L911.5 177.4 L914.5 179.2 L917.5 181.1 L920.5 183.0 L923.5 185.0 L926.5 186.9 L929.5 188.9 L932.5 190.9 L935.5 192.9 L938.5 195.0 L941.5 197.0 L944.5 199.1 L947.5 201.2 L950.5 203.3 L953.5 205.4 L956.5 207.6 L959.5 209.8 L962.5 212.0 L965.5 214.2 L968.5 216.4 L971.5 218.6 L974.5 220.9 L977.5 223.2 L980.5 225.4 L983.5 227.7 L986.5 230.1 L989.5 232.4 L992.5 234.8 L995.5 237.1 L998.5 239.5 L1001.5 241.9 L1004.5 244.3 L1007.5 246.7 L1010.5 249.1 L1013.5 251.6 L1016.5 254.1 L1019.5 256.5 L1022.5 259.0 L1025.5 261.5 L1028.5 264.0 L1031.5 266.5 L1034.5 269.1 L1037.5 271.6 L1040.5 274.1 L1043.5 276.7 L1046.5 279.3 L1049.5 281.9 L1052.5 284.4 L1055.5 287.0 L1058.5 289.6 L1061.5 292.3 L1064.5 294.9 L1067.5 297.5 L1070.5 300.2 L1073.5 302.8 L1076.5 305.5 L1079.5 308.1 L1082.5 310.8 L1085.5 313.5 L1088.5 316.1 L1091.5 318.8 L1094.5 321.5 L1097.5 324.2 L1100.5 326.9 L1103.5 329.6 L1106.5 332.3 L1109.5 335.0 L1112.5 337.7 L1115.5 340.5 L1118.5 343.2 L1121.5 345.9 L1124.5 348.6 L1127.5 351.4 L1130.5 354.1 L1133.5 356.8 L1136.5 359.6 L1139.5 362.3 L1142.5 365.1 L1145.5 367.8 L1148.5 370.5 L1151.5 373.3 L1154.5 376.0 L1157.5 378.8 L1160.5 381.5 L1163.5 384.3 L1166.5 387.0 L1169.5 389.8 L1172.5 392.5 L1175.5 395.3 L1178.5 398.0 L1181.5 400.7 L1184.5 403.5 L1187.5 406.2 L1190.5 409.0 L1193.5 411.7 L1196.5 414.5 L1199.5 417.2 L1202.5 419.9 L1205.5 422.7 L1208.5 425.4 L1211.5 428.1 L1214.5 430.9 L1217.5 433.6 L1220.5 436.3 L1223.5 439.0 L1226.5 441.8 L1229.5 444.5 L1232.5 447.2 L1235.5 449.9 L1238.5 452.6 L1241.5 455.3 L1244.5 458.0 L1247.5 460.7 L1250.5 463.4 L1253.5 466.1 L1256.5 468.7 L1259.5 471.4 L1262.5 474.1 L1265.5 476.8 L1268.5 479.4 L1271.5 482.1 L1274.5 484.7 L1277.5 487.4 L1280.5 490.0 L1283.5 492.7 L1286.5 495.3 L1289.5 497.9 L1292.5 500.5 L1295.5 503.1 L1298.5 505.7 L1301.5 508.3 L1304.5 510.9 L1307.5 513.5 L1310.5 516.1 L1313.5 518.6 L1316.5 521.2 L1319.5 523.8 L1322.5 526.3 L1325.5 528.8 L1328.5 531.4 L1331.5 533.9 L1334.5 536.4 L1337.5 538.9 L1340.5 541.4 L1343.5 543.9 L1346.5 546.4 L1349.5 548.9 L1352.5 551.3 L1355.5 553.8 L1358.5 556.3 L1361.5 558.7 L1364.5 561.2 L1367.5 563.6 L1370.5 566.0 L1373.5 568.4 L1376.5 570.9 L1379.5 573.3 L1382.5 575.7 L1385.5 578.1 L1388.5 580.5 L1391.5 582.9 L1394.5 585.3 L1397.5 587.6 L1400.5 590.0 L1403.5 592.4 L1406.5 594.7 L1409.5 597.1 L1412.5 599.4 L1415.5 601.8 L1418.5 604.1 L1421.5 606.5 L1424.5 608.8 L1427.5 611.1 L1430.5 613.5 L1433.5 615.8 L1436.5 618.1 L1439.5 620.4 L1442.5 622.7 L1445.5 625.1 L1448.5 627.4 L1451.5 629.7 L1454.5 632.0 L1457.5 634.2 L1460.5 636.5 L1463.5 638.8 L1466.5 641.1 L1469.5 643.4 L1472.5 645.7 L1475.5 648.0 L1478.5 650.2 L1481.5 652.5 L1484.5 654.8 L1487.5 657.0 L1490.5 659.3 L1493.5 661.6 L1496.5 663.8 L1499.5 666.1 L1502.5 668.4 L1505.5 670.6 L1508.5 672.9 L1511.5 675.1 L1514.5 677.4 L1517.5 679.6 L1520.5 681.9 L1523.5 684.2 L1526.5 686.4 L1529.5 688.7 L1532.5 690.9 L1535.5 693.2 L1538.5 695.4 L1541.5 697.6 L1544.5 699.9 L1547.5 702.1 L1550.5 704.4 L1553.5 706.6 L1556.5 708.9 L1559.5 711.1 L1562.5 713.4 L1565.5 715.6 L1568.5 717.8 L1571.5 720.1 L1574.5 722.3 L1577.5 724.6 L1580.5 726.8 L1583.5 729.0 L1586.5 731.3 L1589.5 733.5 L1592.5 735.7 L1595.5 738.0 L1598.5 740.2 L1601.5 742.4 L1604.5 744.7 L1607.5 746.9 L1610.5 749.1 L1613.5 751.3 L1616.5 753.6 L1619.5 755.8 L1622.5 758.0 L1625.5 760.2 L1628.5 762.5 L1631.5 764.7 L1634.5 766.9 L1637.5 769.1 L1640.5 771.4 L1643.5 773.6 L1646.5 775.8 L1649.5 778.0 L1652.5 780.2 L1655.5 782.5 L1658.5 784.7 L1661.5 786.9 L1664.5 789.1 L1667.5 791.3 L1670.5 793.6 L1673.5 795.8 L1676.5 798.0 L1679.5 800.2 L1682.5 802.4 L1685.5 804.6 L1688.5 806.8 L1691.5 809.0 L1694.5 811.3 L1697.5 813.5 L1700.5 815.7 L1703.5 817.9 L1706.5 820.1 L1709.5 822.3 L1712.5 824.5 L1715.5 826.7 L1718.5 828.9 L1721.5 831.1 L1724.5 833.3 L1727.5 835.5 L1730.5 837.7 L1733.5 839.9 L1736.5 842.2 L1739.5 844.4 L1742.5 846.6 L1745.5 848.8 L1748.5 851.0 L1751.5 853.2 L1754.5 855.4 L1757.5 857.6 L1760.5 859.8 L1763.5 862.0 L1766.5 864.2 L1769.5 866.4 L1772.5 868.6 L1775.5 870.8 L1778.5 873.0 L1781.5 875.2 L1784.5 877.4 L1787.5 879.5 L1790.5 881.7 L1793.5 883.9 L1796.5 886.1 L1799.5 888.3 L1802.5 890.5 L1805.5 892.7 L1808.5 894.9 L1811.5 897.1 L1814.5 899.3 L1817.5 901.5 L1820.5 903.7 L1823.5 905.9 L1826.5 908.1 L1829.5 910.3 L1832.5 912.4 L1835.5 914.6 L1838.5 916.8 L1841.5 919.0 L1844.5 921.2 L1847.5 923.4 L1850.5 925.6 L1853.5 927.8 L1856.5 930.0 L1859.5 932.2 L1862.5 934.3 L1865.5 936.5 L1868.5 938.7 L1871.5 940.9 L1874.5 943.1 L1877.5 945.3 L1880.5 947.5 L1883.5 949.7 L1886.5 951.8 L1889.5 954.0 L1892.5 956.2 L1895.5 958.4 L1898.5 960.6 L1901.5 962.8 L1904.5 965.0 L1907.5 967.1 L1910.5 969.3 L1913.5 971.5 L1916.5 973.7 L1919.5 975.9 L1922.5 978.1 L1925.5 980.2 L1928.5 982.4 L1931.5 984.6 L1934.5 986.8 L1937.5 989.0 L1940.5 991.2 L1943.5 993.3 L1946.5 995.5 L1949.5 997.7 L1952.5 999.9 L1955.5 1002.1 L1958.5 1004.3 L1961.5 1006.4 L1964.5 1008.6 L1967.5 1010.8 L1970.5 1013.0 L1973.5 1015.2 L1976.5 1017.4 L1979.5 1019.5 L1982.5 1021.7 L1985.5 1023.9 L1988.5 1026.1 L1991.5 1028.3 L1994.5 1030.5 L1997.5 1032.6 L2000.5 1034.8 L2003.5 1037.0 L2006.5 1039.2 L2009.5 1041.4 L2012.5 1043.5 L2015.5 1045.7 L2018.5 1047.9 L2019.5 1048.6" fill="none" stroke="#00ff00" stroke-width="9" stroke-linejoin="round" stroke-linecap="butt" shape-rendering="crispEdges" stroke-dasharray="9 7.404" stroke-dashoffset="0.4"/>
<path d="M188.5 274.4 L191.5 273.4 L194.5 272.3 L197.5 271.2 L200.5 270.1 L203.5 269.1 L206.5 268.0 L209.5 266.9 L212.5 265.8 L215.5 264.8 L218.5 263.7 L221.5 262.6 L224.5 261.5 L227.5 260.5 L230.5 259.4 L233.5 258.3 L236.5 257.3 L239.5 256.2 L242.5 255.2 L245.5 254.1 L248.5 253.0 L251.5 252.0 L254.5 250.9 L257.5 249.9 L260.5 248.8 L263.5 247.8 L266.5 246.8 L269.5 245.7 L272.5 244.7 L275.5 243.7 L278.5 242.6 L281.5 241.6 L284.5 240.6 L287.5 239.6 L290.5 238.5 L293.5 237.5 L296.5 236.5 L299.5 235.5 L302.5 234.5 L305.5 233.5 L308.5 232.5 L311.5 231.6 L314.5 230.6 L317.5 229.6 L320.5 228.6 L323.5 227.7 L326.5 226.7 L329.5 225.7 L332.5 224.8 L335.5 223.8 L338.5 222.9 L341.5 222.0 L344.5 221.0 L347.5 220.1 L350.5 219.2 L353.5 218.3 L356.5 217.4 L359.5 216.4 L362.5 215.6 L365.5 214.7 L368.5 213.8 L371.5 212.9 L374.5 212.0 L377.5 211.2 L380.5 210.3 L383.5 209.5 L386.5 208.6 L389.5 207.8 L392.5 207.0 L395.5 206.1 L398.5 205.3 L401.5 204.5 L404.5 203.7 L407.5 202.9 L410.5 202.1 L413.5 201.4 L416.5 200.6 L419.5 199.8 L422.5 199.1 L425.5 198.4 L428.5 197.6 L431.5 196.9 L434.5 196.2 L437.5 195.5 L440.5 194.8 L443.5 194.1 L446.5 193.4 L449.5 192.7 L452.5 192.1 L455.5 191.4 L458.5 190.8 L461.5 190.2 L464.5 189.5 L467.5 188.9 L470.5 188.3 L473.5 187.7 L476.5 187.1 L479.5 186.6 L482.5 186.0 L485.5 185.5 L488.5 184.9 L491.5 184.4 L494.5 183.9 L497.5 183.4 L500.5 182.9 L503.5 182.4 L506.5 181.9 L509.5 181.4 L512.5 181.0 L515.5 180.5 L518.5 180.1 L521.5 179.7 L524.5 179.3 L527.5 178.9 L530.5 178.5 L533.5 178.2 L536.5 177.8 L539.5 177.5 L542.5 177.1 L545.5 176.8 L548.5 176.5 L551.5 176.2 L554.5 175.9 L557.5 175.7 L560.5 175.4 L563.5 175.2 L566.5 174.9 L569.5 174.7 L572.5 174.5 L575.5 174.3 L578.5 174.2 L581.5 174.0 L584.5 173.9 L587.5 173.7 L590.5 173.6 L593.5 173.5 L596.5 173.4 L599.5 173.4 L602.5 173.3 L605.5 173.3 L608.5 173.2 L611.5 173.2 L614.5 173.2 L617.5 173.2 L620.5 173.3 L623.5 173.3 L626.5 173.4 L629.5 173.5 L632.5 173.6 L635.5 173.7 L638.5 173.8 L641.5 173.9 L644.5 174.1 L647.5 174.3 L650.5 174.5 L653.5 174.7 L656.5 174.9 L659.5 175.1 L662.5 175.4 L665.5 175.7 L668.5 176.0 L671.5 176.3 L674.5 176.6 L677.5 176.9 L680.5 177.3 L683.5 177.7 L686.5 178.1 L689.5 178.5 L692.5 178.9 L695.5 179.4 L698.5 179.8 L701.5 180.3 L704.5 180.8 L707.5 181.3 L710.5 181.9 L713.5 182.4 L716.5 183.0 L719.5 183.6 L722.5 184.2 L725.5 184.8 L728.5 185.5 L731.5 186.1 L734.5 186.8 L737.5 187.5 L740.5 188.2 L743.5 189.0 L746.5 189.7 L749.5 190.5 L752.5 191.3 L755.5 192.1 L758.5 192.9 L761.5 193.8 L764.5 194.6 L767.5 195.5 L770.5 196.4 L773.5 197.3 L776.5 198.3 L779.5 199.3 L782.5 200.2 L785.5 201.2 L788.5 202.3 L791.5 203.3 L794.5 204.4 L797.5 205.4 L800.5 206.5 L803.5 207.6 L806.5 208.8 L809.5 209.9 L812.5 211.1 L815.5 212.3 L818.5 213.5 L821.5 214.8 L824.5 216.0 L827.5 217.3 L830.5 218.6 L833.5 219.9 L836.5 221.2 L839.5 222.6 L842.5 224.0 L845.5 225.4 L848.5 226.8 L851.5 228.2 L854.5 229.7 L857.5 231.1 L860.5 232.6 L863.5 234.2 L866.5 235.7 L869.5 237.3 L872.5 238.8 L875.5 240.4 L878.5 242.1 L881.5 243.7 L884.5 245.4 L887.5 247.1 L890.5 248.8 L893.5 250.5 L896.5 252.3 L899.5 254.0 L902.5 255.8 L905.5 257.6 L908.5 259.5 L911.5 261.3 L914.5 263.2 L917.5 265.1 L920.5 267.0 L923.5 269.0 L926.5 270.9 L929.5 272.9 L932.5 274.9 L935.5 277.0 L938.5 279.0 L941.5 281.1 L944.5 283.2 L947.5 285.3 L950.5 287.4 L953.5 289.6 L956.5 291.8 L959.5 294.0 L962.5 296.2 L965.5 298.4 L968.5 300.7 L971.5 302.9 L974.5 305.2 L977.5 307.6 L980.5 309.9 L983.5 312.2 L986.5 314.6 L989.5 317.0 L992.5 319.4 L995.5 321.8 L998.5 324.3 L1001.5 326.8 L1004.5 329.2 L1007.5 331.7 L1010.5 334.3 L1013.5 336.8 L1016.5 339.3 L1019.5 341.9 L1022.5 344.5 L1025.5 347.1 L1028.5 349.7 L1031.5 352.4 L1034.5 355.0 L1037.5 357.7 L1040.5 360.4 L1043.5 363.1 L1046.5 365.8 L1049.5 368.5 L1052.5 371.3 L1055.5 374.0 L1058.5 376.8 L1061.5 379.6 L1064.5 382.4 L1067.5 385.2 L1070.5 388.0 L1073.5 390.9 L1076.5 393.7 L1079.5 396.6 L1082.5 399.5 L1085.5 402.4 L1088.5 405.3 L1091.5 408.3 L1094.5 411.2 L1097.5 414.1 L1100.5 417.1 L1103.5 420.1 L1106.5 423.1 L1109.5 426.1 L1112.5 429.1 L1115.5 432.1 L1118.5 435.2 L1121.5 438.2 L1124.5 441.3 L1127.5 444.3 L1130.5 447.4 L1133.5 450.5 L1136.5 453.6 L1139.5 456.7 L1142.5 459.9 L1145.5 463.0 L1148.5 466.1 L1151.5 469.3 L1154.5 472.4 L1157.5 475.6 L1160.5 478.8 L1163.5 482.0 L1166.5 485.2 L1169.5 488.4 L1172.5 491.6 L1175.5 494.8 L1178.5 498.1 L1181.5 501.3 L1184.5 504.6 L1187.5 507.8 L1190.5 511.1 L1193.5 514.4 L1196.5 517.7 L1199.5 521.0 L1202.5 524.2 L1205.5 527.6 L1208.5 530.9 L1211.5 534.2 L1214.5 537.5 L1217.5 540.8 L1220.5 544.2 L1223.5 547.5 L1226.5 550.9 L1229.5 554.2 L1232.5 557.6 L1235.5 560.9 L1238.5 564.3 L1241.5 567.7 L1244.5 571.1 L1247.5 574.5 L1250.5 577.9 L1253.5 581.3 L1256.5 584.7 L1259.5 588.1 L1262.5 591.5 L1265.5 594.9 L1268.5 598.3 L1271.5 601.7 L1274.5 605.1 L1277.5 608.6 L1280.5 612.0 L1283.5 615.4 L1286.5 618.9 L1289.5 622.3 L1292.5 625.7 L1295.5 629.2 L1298.5 632.6 L1301.5 636.1 L1304.5 639.5 L1307.5 643.0 L1310.5 646.4 L1313.5 649.9 L1316.5 653.4 L1319.5 656.8 L1322.5 660.3 L1325.5 663.8 L1328.5 667.2 L1331.5 670.7 L1334.5 674.2 L1337.5 677.6 L1340.5 681.1 L1343.5 684.6 L1346.5 688.0 L1349.5 691.5 L1352.5 695.0 L1355.5 698.5 L1358.5 702.0 L1361.5 705.5 L1364.5 708.9 L1367.5 712.4 L1370.5 715.9 L1373.5 719.4 L1376.5 722.9 L1379.5 726.4 L1382.5 729.9 L1385.5 733.4 L1388.5 736.9 L1391.5 740.4 L1394.5 743.9 L1397.5 747.4 L1400.5 750.9 L1403.5 754.4 L1406.5 757.9 L1409.5 761.4 L1412.5 764.9 L1415.5 768.4 L1418.5 771.9 L1421.5 775.5 L1424.5 779.0 L1427.5 782.5 L1430.5 786.0 L1433.5 789.5 L1436.5 793.0 L1439.5 796.6 L1442.5 800.1 L1445.5 803.6 L1448.5 807.1 L1451.5 810.7 L1454.5 814.2 L1457.5 817.7 L1460.5 821.2 L1463.5 824.8 L1466.5 828.3 L1469.5 831.8 L1472.5 835.4 L1475.5 838.9 L1478.5 842.4 L1481.5 846.0 L1484.5 849.5 L1487.5 853.0 L1490.5 856.6 L1493.5 860.1 L1496.5 863.7 L1499.5 867.2 L1502.5 870.7 L1505.5 874.3 L1508.5 877.8 L1511.5 881.4 L1514.5 884.9 L1517.5 888.5 L1520.5 892.0 L1523.5 895.6 L1526.5 899.1 L1529.5 902.6 L1532.5 906.2 L1535.5 909.7 L1538.5 913.3 L1541.5 916.9 L1544.5 920.4 L1547.5 924.0 L1550.5 927.5 L1553.5 931.1 L1556.5 934.6 L1559.5 938.2 L1562.5 941.7 L1565.5 945.3 L1568.5 948.9 L1571.5 952.4 L1574.5 956.0 L1577.5 959.5 L1580.5 963.1 L1583.5 966.7 L1586.5 970.2 L1589.5 973.8 L1592.5 977.4 L1595.5 980.9 L1598.5 984.5 L1601.5 988.1 L1604.5 991.6 L1607.5 995.2 L1610.5 998.8 L1613.5 1002.3 L1616.5 1005.9 L1619.5 1009.5 L1622.5 1013.0 L1625.5 1016.6 L1628.5 1020.2 L1631.5 1023.8 L1634.5 1027.3 L1637.5 1030.9 L1640.5 1034.5 L1643.5 1038.1 L1646.5 1041.6 L1649.5 1045.2 L1652.5 1048.8 L1655.5 1052.4 L1658.5 1056.0 L1661.5 1059.5 L1664.5 1063.1 L1667.5 1066.7 L1670.5 1070.3 L1673.5 1073.9 L1676.5 1077.4 L1679.5 1081.0 L1682.5 1084.6 L1685.5 1088.2 L1688.5 1091.8 L1691.5 1095.4 L1694.5 1098.9 L1697.5 1102.5 L1700.5 1106.1 L1703.5 1109.7 L1706.5 1113.3 L1709.5 1116.9 L1712.5 1120.5 L1715.5 1124.1 L1718.5 1127.6 L1721.5 1131.2 L1724.5 1134.8 L1727.5 1138.4 L1730.5 1142.0 L1733.5 1145.6 L1736.5 1149.2 L1739.5 1152.8 L1742.5 1156.4 L1745.5 1160.0 L1748.5 1163.6 L1751.5 1167.2 L1754.5 1170.8 L1757.5 1174.3 L1760.5 1177.9 L1763.5 1181.5 L1766.5 1185.1 L1769.5 1188.7 L1772.5 1192.3 L1775.5 1195.9 L1778.5 1199.5 L1781.5 1203.1 L1784.5 1206.7 L1787.5 1210.3 L1790.5 1213.9 L1793.5 1217.5 L1796.5 1221.1 L1799.5 1224.7 L1802.5 1228.3 L1805.5 1231.9 L1808.5 1235.5 L1811.5 1239.1 L1814.5 1242.7 L1817.5 1246.3 L1820.5 1249.9 L1823.5 1253.5 L1826.5 1257.1 L1829.5 1260.7 L1832.5 1264.3 L1835.5 1267.9 L1838.5 1271.5 L1841.5 1275.1 L1844.5 1278.7 L1847.5 1282.3 L1850.5 1285.9 L1853.5 1289.6 L1856.5 1293.2 L1859.5 1296.8 L1862.5 1300.4 L1865.5 1304.0 L1868.5 1307.6 L1871.5 1311.2 L1874.5 1314.8 L1877.5 1318.4 L1880.5 1322.0 L1883.5 1325.6 L1886.5 1329.2 L1889.5 1332.8 L1892.5 1336.4 L1895.5 1340.0 L1898.5 1343.6 L1901.5 1347.2 L1904.5 1350.8 L1907.5 1354.5 L1910.5 1358.1 L1913.5 1361.7 L1916.5 1365.3 L1919.5 1368.9 L1922.5 1372.5 L1925.5 1376.1 L1928.5 1379.7 L1931.5 1383.3 L1934.5 1386.9 L1937.5 1390.5 L1940.5 1394.1 L1943.5 1397.7 L1946.5 1401.4 L1949.5 1405.0 L1952.5 1408.6 L1955.5 1412.2 L1958.5 1415.8 L1961.5 1419.4 L1964.5 1423.0 L1967.5 1426.6 L1970.5 1430.2 L1973.5 1433.8 L1976.5 1437.4 L1979.5 1441.0 L1982.5 1444.6 L1985.5 1448.3 L1988.5 1451.9 L1991.5 1455.5 L1994.5 1459.1 L1997.5 1462.7 L2000.5 1466.3 L2003.5 1469.9 L2006.5 1473.5 L2009.5 1477.1 L2012.5 1480.7 L2015.5 1484.3 L2018.5 1487.9 L2019.5 1489.1" fill="none" stroke="#00ff00" stroke-width="9" stroke-linejoin="round" stroke-linecap="butt" shape-rendering="crispEdges" stroke-dasharray="9 7.404" stroke-dashoffset="0.4"/>
<rect x="1688.5" y="65.5" width="317.4" height="204" fill="#ffffff" stroke="#262626" stroke-width="3"/>
<path d="M1700.8 116.9 L1803.1 116.9" stroke="#0000ff" stroke-width="10"/>
<path d="M1700.8 218.4 L1803.1 218.4" stroke="#00ff00" stroke-width="9"/>
<text transform="translate(1816.20 151.90) scale(1 1.0670)" font-family="'Liberation Sans', Arial, Helvetica, sans-serif" font-size="69.4" fill="#000000">East</text>
<text transform="translate(1816.70 254.20) scale(1 1.0670)" font-family="'Liberation Sans', Arial, Helvetica, sans-serif" font-size="69.4" fill="#000000">West</text>
</svg>
</body></html>
